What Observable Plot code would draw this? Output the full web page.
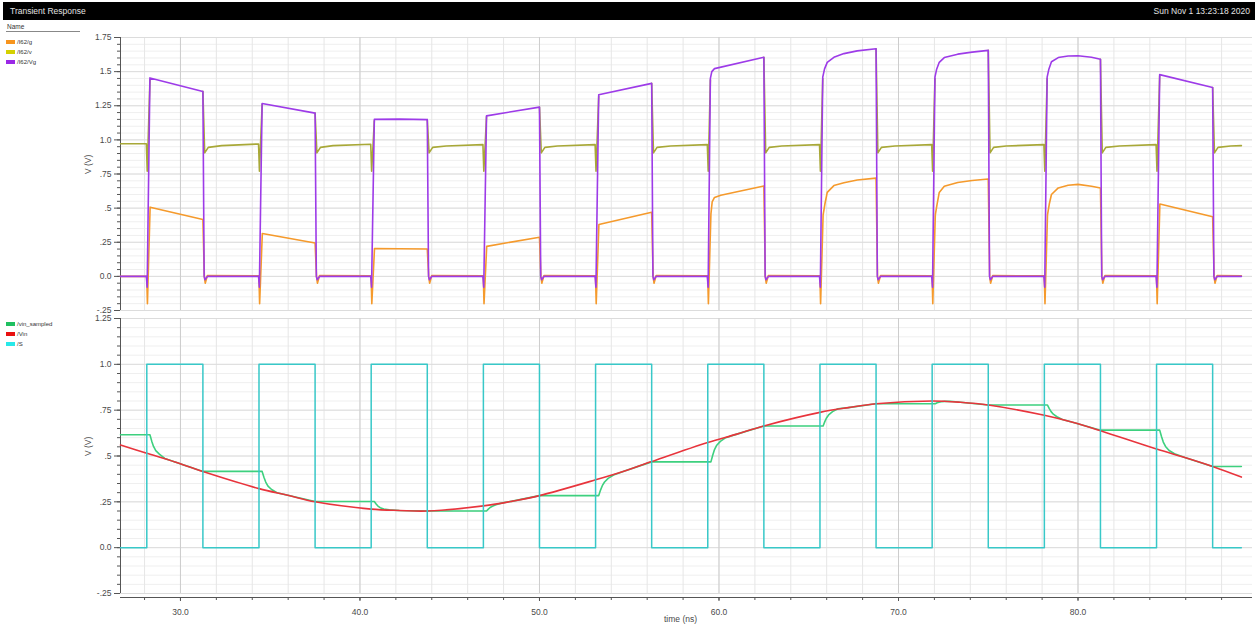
<!DOCTYPE html>
<html>
<head>
<meta charset="utf-8">
<script src="https://cdn.jsdelivr.net/npm/d3@7"></script>
<script src="https://cdn.jsdelivr.net/npm/@observablehq/plot@0.6"></script>
<style>
  body { margin: 0; background: #fff; font-family: "Liberation Sans", Arial, sans-serif; }
  #page { position: relative; width: 1255px; height: 628px; overflow: hidden; background: #fff; }
  #bar { position: absolute; left: 3px; top: 2px; width: 1252px; height: 18px; background: #000; }
  #bar .title { position: absolute; left: 7px; top: 4px; font-size: 8.5px; color: #e2e2e2; }
  #bar .stamp { position: absolute; right: 5px; top: 4px; font-size: 8.5px; color: #e2e2e2; }
  #namehdr { position: absolute; left: 7px; top: 23px; font-size: 6.5px; color: #333; }
  #namerule { position: absolute; left: 6px; top: 31px; width: 74px; height: 1px; background: #888; }
  .legend { position: absolute; left: 6px; font-size: 6px; color: #333; }
  .legend div { height: 10px; display: flex; align-items: center; }
  .legend span.sw { display: inline-block; width: 9px; height: 4px; margin-right: 2px; }
  .panel { position: absolute; left: 0; }
  .panel svg { overflow: visible; }
</style>
</head>
<body>
<div id="page">
  <div id="bar"><span class="title">Transient Response</span><span class="stamp">Sun Nov 1 13:23:18 2020</span></div>
  <div id="namehdr">Name</div>
  <div id="namerule"></div>
  <div class="legend" id="legendTop" style="top:37px"></div>
  <div class="legend" id="legendBottom" style="top:319px"></div>
  <div class="panel" id="topPanel" style="top:20px"></div>
  <div class="panel" id="bottomPanel" style="top:312px"></div>
</div>
<script>
// ---- time axis (ns) ----
const timeDomain = [26.66, 89.72];
const timeTicks = [30, 40, 50, 60, 70, 80];
const timeTickLabels = ["30.0", "40.0", "50.0", "60.0", "70.0", "80.0"];

// ---- voltage axes (V) ----
const topTicks = [-0.25, 0, 0.25, 0.5, 0.75, 1.0, 1.25, 1.5, 1.75];
const topTickLabels = ["-.25", "0.0", ".25", ".5", ".75", "1.0", "1.25", "1.5", "1.75"];
const bottomTicks = [-0.25, 0, 0.25, 0.5, 0.75, 1.0, 1.25];
const bottomTickLabels = ["-.25", "0.0", ".25", ".5", ".75", "1.0", "1.25"];

// ---- series names and colours ----
const topSeries = ["/I62/g", "/I62/v", "/I62/Vg"];
const topColors = ["#f59a2c", "#a8a838", "#9d3be8"];
const topSwatches = ["#f7941d", "#d4d000", "#9a28e6"];
const bottomSeries = ["/vin_sampled", "/Vin", "/S"];
const bottomColors = ["#3dd07e", "#e8343c", "#38c8c8"];
const bottomSwatches = ["#1fbf60", "#e81010", "#28e8e8"];

// ---- /I62/g : [time ns, volts] ----
const gPoints = [
  [26.66,0],[28.12,0],[28.16,-0.2],[28.31,0.507],[31.25,0.417],[31.33,0],[31.38,-0.05],[31.5,0.006],
  [34.37,0.004],[34.41,-0.2],[34.56,0.314],[37.5,0.245],[37.58,0],[37.63,-0.05],[37.75,0.006],
  [40.62,0.004],[40.66,-0.2],[40.81,0.204],[42.2,0.202],[43.75,0.2],[43.83,0],[43.88,-0.05],[44.0,0.006],
  [46.87,0.004],[46.91,-0.2],[47.06,0.22],[50.0,0.287],[50.08,0],[50.13,-0.05],[50.25,0.006],
  [53.12,0.004],[53.16,-0.2],[53.31,0.38],[56.25,0.47],[56.33,0],[56.38,-0.05],[56.5,0.006],
  [59.37,0.004],[59.41,-0.2],[59.55,0.456],[59.62,0.545],[59.75,0.578],[60.1,0.595],[62.5,0.662],[62.58,0],[62.63,-0.05],[62.75,0.006],
  [65.62,0.004],[65.66,-0.2],[65.8,0.45],[65.9,0.53],[66.03,0.615],[66.4,0.665],[66.96,0.686],[67.7,0.706],[68.75,0.72],[68.83,0],[68.88,-0.05],[69.0,0.006],
  [71.87,0.004],[71.91,-0.2],[72.05,0.45],[72.15,0.53],[72.27,0.615],[72.55,0.66],[73.3,0.688],[74.1,0.702],[75.0,0.713],[75.08,0],[75.13,-0.05],[75.25,0.006],
  [78.12,0.004],[78.16,-0.2],[78.3,0.45],[78.4,0.53],[78.52,0.6],[78.9,0.648],[79.45,0.668],[80.0,0.674],[80.75,0.66],[81.25,0.648],[81.33,0],[81.38,-0.05],[81.5,0.006],
  [84.37,0.004],[84.41,-0.2],[84.56,0.53],[87.5,0.437],[87.58,0],[87.63,-0.05],[87.75,0.006],[89.1,0.005]
];

// ---- /I62/v : null breaks the trace where it runs under /I62/Vg ----
const vPoints = [
  [26.66,0.972],[28.1,0.972],[28.15,0.77],[28.3,1.44],[28.31,null],
  [31.25,1.355],[31.35,0.905],[31.55,0.945],[32.3,0.958],[34.35,0.97],[34.4,0.77],[34.55,1.26],[34.56,null],
  [37.5,1.196],[37.6,0.905],[37.8,0.945],[38.5,0.958],[40.6,0.968],[40.65,0.77],[40.8,1.14],[40.81,null],
  [43.75,1.148],[43.85,0.905],[44.05,0.945],[44.8,0.955],[46.85,0.965],[46.9,0.77],[47.05,1.17],[47.06,null],
  [50.0,1.24],[50.1,0.905],[50.3,0.945],[51.0,0.955],[53.1,0.965],[53.15,0.77],[53.3,1.32],[53.31,null],
  [56.25,1.414],[56.35,0.905],[56.55,0.945],[57.3,0.955],[59.35,0.965],[59.4,0.77],[59.52,1.44],[59.53,null],
  [62.5,1.605],[62.6,0.905],[62.8,0.945],[63.5,0.955],[65.6,0.965],[65.65,0.77],[65.78,1.45],[65.79,null],
  [68.75,1.668],[68.85,0.905],[69.05,0.945],[69.8,0.955],[71.85,0.965],[71.9,0.77],[72.03,1.45],[72.04,null],
  [75.0,1.656],[75.1,0.905],[75.3,0.945],[76.0,0.955],[78.1,0.965],[78.15,0.77],[78.28,1.45],[78.29,null],
  [81.25,1.59],[81.35,0.905],[81.55,0.945],[82.3,0.955],[84.35,0.965],[84.4,0.77],[84.55,1.47],[84.56,null],
  [87.5,1.384],[87.6,0.905],[87.8,0.945],[88.5,0.955],[89.1,0.958]
];

// ---- /I62/Vg ----
const vgPoints = [
  [26.66,0],
  [28.1,0],[28.145,-0.08],[28.3,1.454],[31.25,1.355],[31.32,0],[31.37,-0.025],[31.5,0],
  [34.35,0],[34.395,-0.08],[34.55,1.267],[37.5,1.196],[37.57,0],[37.62,-0.025],[37.75,0],
  [40.6,0],[40.645,-0.08],[40.8,1.15],[42.2,1.152],[43.75,1.148],[43.82,0],[43.87,-0.025],[44.0,0],
  [46.85,0],[46.895,-0.08],[47.05,1.176],[50.0,1.24],[50.07,0],[50.12,-0.025],[50.25,0],
  [53.1,0],[53.145,-0.08],[53.3,1.33],[56.25,1.414],[56.32,0],[56.37,-0.025],[56.5,0],
  [59.35,0],[59.395,-0.08],[59.52,1.45],[59.6,1.5],[59.75,1.522],[62.5,1.605],[62.57,0],[62.62,-0.025],[62.75,0],
  [65.6,0],[65.645,-0.08],[65.78,1.46],[65.88,1.52],[66.03,1.568],[66.4,1.605],[66.96,1.632],[67.7,1.652],[68.75,1.668],[68.82,0],[68.87,-0.025],[69.0,0],
  [71.85,0],[71.895,-0.08],[72.03,1.46],[72.12,1.515],[72.27,1.568],[72.55,1.603],[73.3,1.628],[74.1,1.643],[75.0,1.656],[75.07,0],[75.12,-0.025],[75.25,0],
  [78.1,0],[78.145,-0.08],[78.28,1.46],[78.38,1.52],[78.52,1.572],[78.9,1.603],[79.45,1.615],[80.0,1.616],[80.75,1.605],[81.25,1.59],[81.32,0],[81.37,-0.025],[81.5,0],
  [84.35,0],[84.395,-0.08],[84.55,1.478],[87.5,1.384],[87.57,0],[87.62,-0.025],[87.75,0],
  [89.1,0]
];

// ---- /vin_sampled : hold, settle, track ----
const vinSampledPoints = [
  [26.66,0.616],
  [28.3,0.616],[28.4,0.581],[28.5,0.552],[28.625,0.529],[28.825,0.51],[29.125,0.487],[29.7,0.467],[31.25,0.416],
  [34.55,0.416],[34.65,0.384],[34.75,0.358],[34.875,0.336],[35.075,0.317],[35.375,0.300],[35.98,0.286],[37.5,0.252],
  [40.8,0.252],[40.9,0.238],[41.0,0.227],[41.125,0.218],[41.325,0.211],[41.625,0.206],[42.2,0.203],[43.75,0.200],
  [47.05,0.200],[47.15,0.210],[47.25,0.219],[47.375,0.226],[47.575,0.234],[47.875,0.243],[48.5,0.254],[50.0,0.284],
  [53.3,0.284],[53.4,0.314],[53.5,0.338],[53.625,0.358],[53.825,0.378],[54.125,0.396],[54.7,0.417],[56.25,0.468],
  [59.55,0.468],[59.65,0.504],[59.75,0.535],[59.875,0.559],[60.075,0.580],[60.375,0.600],[60.95,0.618],[62.5,0.664],
  [65.8,0.664],[65.9,0.689],[66.0,0.709],[66.125,0.726],[66.325,0.742],[66.625,0.758],[67.2,0.764],[68.75,0.785],
  [72.05,0.785],[72.15,0.790],[72.25,0.793],[72.375,0.796],[72.575,0.798],[72.875,0.799],[73.45,0.793],[75.0,0.778],
  [78.3,0.778],[78.4,0.758],[78.5,0.742],[78.625,0.728],[78.825,0.714],[79.125,0.699],[79.7,0.684],[81.25,0.641],
  [84.55,0.641],[84.65,0.606],[84.75,0.576],[84.875,0.552],[85.075,0.530],[85.375,0.512],[85.95,0.492],[87.5,0.443],
  [89.1,0.443]
];

// ---- /Vin ----
const vinPoints = [
  [26.66,0.560],[28.125,0.515],[29.7,0.467],[31.25,0.415],[34.375,0.322],[35.98,0.286],[37.5,0.250],
  [40.625,0.210],[42.2,0.203],[43.75,0.200],[46.875,0.228],[48.5,0.254],[50.0,0.284],[53.125,0.370],
  [54.7,0.417],[56.25,0.470],[59.375,0.574],[60.95,0.618],[62.5,0.664],[65.625,0.738],[67.2,0.764],
  [68.75,0.785],[71.875,0.800],[73.45,0.793],[75.0,0.778],[78.125,0.722],[79.7,0.684],[81.25,0.638],
  [84.375,0.538],[85.95,0.492],[87.5,0.443],[89.1,0.385]
];

// ---- /S : level after each edge ----
const sPoints = [
  [26.66,0],[28.125,1],[31.25,0],[34.375,1],[37.5,0],[40.625,1],[43.75,0],[46.875,1],[50.0,0],
  [53.125,1],[56.25,0],[59.375,1],[62.5,0],[65.625,1],[68.75,0],[71.875,1],[75.0,0],
  [78.125,1],[81.25,0],[84.375,1],[87.5,0],[89.1,0]
];

const rows = pts => pts.map(([t, v]) => ({t, v}));
const round = x => Math.round(x * 1000) / 1000;
const minorTime = d3.range(28, 90, 2);
const steps = (lo, hi, s) => d3.range(0, Math.round((hi - lo) / s) + 1).map(i => round(lo + i * s));

const fontStyle = {fontFamily: "'Liberation Sans', Arial, sans-serif", fontSize: "8.5px", color: "#4a4a4a", background: "transparent", overflow: "visible"};

function frameMarks(yLo, yHi) {
  const minorY = steps(yLo, yHi, 0.05);
  const majorY = steps(yLo, yHi, 0.25);
  return [
    Plot.gridY(minorY, {stroke: "#efefef", strokeOpacity: 1}),
    Plot.gridX(minorTime, {stroke: "#e6e6e6", strokeOpacity: 1}),
    Plot.gridY(majorY, {stroke: "#dcdcdc", strokeOpacity: 1}),
    Plot.gridX(timeTicks, {stroke: "#cdcdcd", strokeOpacity: 1}),
    Plot.ruleX([timeDomain[0]], {stroke: "#555", strokeWidth: 1}),
    Plot.axisY({ticks: minorY, tickSize: 3, tickFormat: () => "", label: null, stroke: "#555"}),
  ];
}

function yLabels(ticks, labels) {
  return Plot.axisY({ticks, tickSize: 6, tickPadding: 3, tickFormat: (d, i) => labels[i], label: null, stroke: "#555", fill: "#4a4a4a"});
}

function traces(list, colors) {
  return list.map((pts, i) => Plot.line(rows(pts), {
    x: "t", y: "v", stroke: colors[i], strokeWidth: 1.6,
    curve: "linear"
  }));
}

// ---- upper panel: switch node voltages ----
const topPlot = Plot.plot({
  width: 1255, height: 300,
  marginLeft: 120, marginRight: 3, marginTop: 17, marginBottom: 10,
  style: fontStyle,
  x: {domain: timeDomain, axis: null},
  y: {domain: [-0.25, 1.75], axis: null},
  marks: [
    ...frameMarks(-0.25, 1.75),
    yLabels(topTicks, topTickLabels),
    Plot.text(["V (V)"], {frameAnchor: "left", dx: -32, rotate: -90, fill: "#4a4a4a", fontSize: 8.5}),
    ...traces([gPoints, vPoints, vgPoints], topColors)
  ]
});
document.getElementById("topPanel").appendChild(topPlot);

// ---- lower panel: input, sampled output and clock ----
const bottomPlot = Plot.plot({
  width: 1255, height: 316,
  marginLeft: 120, marginRight: 3, marginTop: 6, marginBottom: 35,
  style: fontStyle,
  x: {domain: timeDomain, axis: null},
  y: {domain: [-0.25, 1.25], axis: null},
  marks: [
    ...frameMarks(-0.25, 1.25),
    yLabels(bottomTicks, bottomTickLabels),
    Plot.text(["V (V)"], {frameAnchor: "left", dx: -32, rotate: -90, fill: "#4a4a4a", fontSize: 8.5}),
    Plot.ruleY([-0.25], {dy: 4, stroke: "#555"}),
    Plot.axisX({ticks: minorTime, tickSize: 3, dy: 4, tickFormat: () => "", label: null, stroke: "#555"}),
    Plot.axisX({ticks: timeTicks, tickSize: 4, dy: 4, tickPadding: 7, tickFormat: (d, i) => timeTickLabels[i], label: null, stroke: "#555", fill: "#4a4a4a"}),
    Plot.text(["time (ns)"], {frameAnchor: "bottom", dx: -6, dy: 28, fill: "#4a4a4a", fontSize: 8.5}),
    Plot.line(rows(vinSampledPoints), {x: "t", y: "v", stroke: bottomColors[0], strokeWidth: 1.6, curve: "linear"}),
    Plot.line(rows(vinPoints), {x: "t", y: "v", stroke: bottomColors[1], strokeWidth: 1.6, curve: "catmull-rom"}),
    Plot.line(rows(sPoints), {x: "t", y: "v", stroke: bottomColors[2], strokeWidth: 1.5, curve: "step-after"})
  ]
});
document.getElementById("bottomPanel").appendChild(bottomPlot);

// ---- legends ----
function fillLegend(id, names, swatches) {
  const box = document.getElementById(id);
  names.forEach((n, i) => {
    const row = document.createElement("div");
    const sw = document.createElement("span");
    sw.className = "sw";
    sw.style.background = swatches[i];
    row.appendChild(sw);
    row.appendChild(document.createTextNode(n));
    box.appendChild(row);
  });
}
fillLegend("legendTop", topSeries, topSwatches);
fillLegend("legendBottom", bottomSeries, bottomSwatches);
</script>
</body>
</html>
